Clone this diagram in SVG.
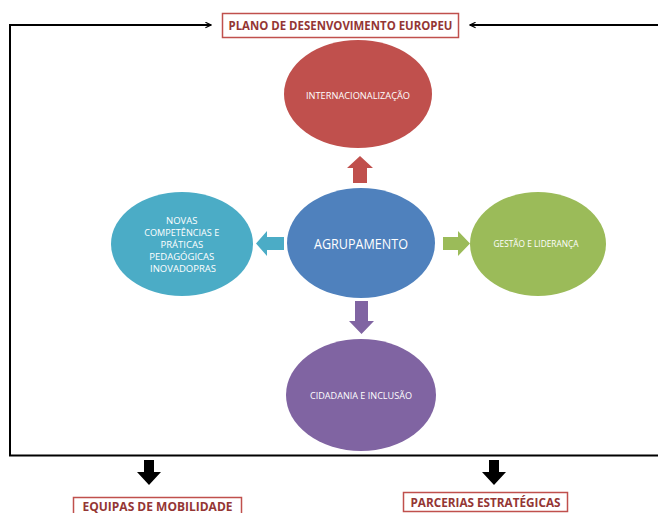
<svg xmlns="http://www.w3.org/2000/svg" width="658" height="513" viewBox="0 0 658 513">
<defs>
<style>
.lbl{font-family:"Open Sans","Liberation Sans",sans-serif;fill:#ffffff;text-anchor:middle;dominant-baseline:central}
.box{fill:#ffffff;stroke:#c0504d;stroke-width:1.5}
.btxt{font-family:"Open Sans","Liberation Sans",sans-serif;font-weight:bold;fill:#943634;text-anchor:middle;dominant-baseline:central;font-size:12px}
.ln{stroke:#000;stroke-width:2;fill:none}
</style>
<marker id="ah" viewBox="0 0 10 10" refX="9" refY="5" markerWidth="7" markerHeight="7" orient="auto" markerUnits="userSpaceOnUse">
<path d="M1,1 L9,5 L1,9" fill="none" stroke="#000" stroke-width="1.6"/>
</marker>
</defs>
<rect width="658" height="513" fill="#ffffff"/>
<g id="connectors">
<polyline class="ln" points="10,455 10,25 211,25" marker-end="url(#ah)"/>
<line class="ln" x1="658" y1="25" x2="470" y2="25" marker-end="url(#ah)"/>
<line class="ln" x1="9" y1="455.5" x2="658" y2="455.5"/>
<path d="M353,183 L353,168 L347,168 L360,156 L373,168 L367,168 L367,183 Z" fill="#c0504d"/>
<path d="M284,237 L267,237 L267,231 L256,243.5 L267,256 L267,250 L284,250 Z" fill="#4bacc6"/>
<path d="M443,237 L458,237 L458,231 L470,243.5 L458,256 L458,250 L443,250 Z" fill="#9bbb59"/>
<path d="M355,301 L355,321 L349,321 L361.5,334 L374,321 L368,321 L368,301 Z" fill="#8064a2"/>
<path d="M144,460 L144,472 L137,472 L149,485 L161,472 L154,472 L154,460 Z" fill="#000"/>
<path d="M489,460 L489,472 L482,472 L494,485 L506,472 L499,472 L499,460 Z" fill="#000"/>
</g>
<g id="plano">
<rect class="box" x="222.5" y="13.5" width="236" height="24"/>
<text class="btxt" x="340.5" y="25.5" textLength="224" lengthAdjust="spacingAndGlyphs">PLANO DE DESENVOVIMENTO EUROPEU</text>
</g>
<g id="internacionalizacao">
<ellipse cx="358" cy="94" rx="74" ry="54" fill="#c0504d"/>
<text class="lbl" x="358" y="95" font-size="9.5" textLength="104" lengthAdjust="spacingAndGlyphs">INTERNACIONALIZAÇÃO</text>
</g>
<g id="agrupamento">
<ellipse cx="361" cy="243" rx="74" ry="55" fill="#4f81bd"/>
<text class="lbl" x="361" y="243" font-size="15" textLength="94" lengthAdjust="spacingAndGlyphs">AGRUPAMENTO</text>
</g>
<g id="novas">
<ellipse cx="182" cy="244" rx="71" ry="52" fill="#4bacc6"/>
<text class="lbl" font-size="9.5">
<tspan x="183" y="220">NOVAS</tspan>
<tspan x="183" y="232" textLength="75" lengthAdjust="spacingAndGlyphs">COMPETÊNCIAS E</tspan>
<tspan x="183" y="244">PRÁTICAS</tspan>
<tspan x="183" y="256">PEDAGÓGICAS</tspan>
<tspan x="183" y="268">INOVADOPRAS</tspan>
</text>
</g>
<g id="gestao">
<ellipse cx="538" cy="244" rx="68" ry="52" fill="#9bbb59"/>
<text class="lbl" x="536" y="243" font-size="9.5" textLength="85" lengthAdjust="spacingAndGlyphs">GESTÃO E LIDERANÇA</text>
</g>
<g id="cidadania">
<ellipse cx="361" cy="395" rx="75" ry="56" fill="#8064a2"/>
<text class="lbl" x="361" y="395" font-size="9.5" textLength="102" lengthAdjust="spacingAndGlyphs">CIDADANIA E INCLUSÃO</text>
</g>
<g id="equipas">
<rect class="box" x="73.5" y="497.5" width="168" height="20"/>
<text class="btxt" x="157.5" y="506" font-size="11.5" textLength="150" lengthAdjust="spacingAndGlyphs">EQUIPAS DE MOBILIDADE</text>
</g>
<g id="parcerias">
<rect class="box" x="403.5" y="492.5" width="164" height="19"/>
<text class="btxt" x="485.5" y="502" textLength="150" lengthAdjust="spacingAndGlyphs">PARCERIAS ESTRATÉGICAS</text>
</g>
</svg>
